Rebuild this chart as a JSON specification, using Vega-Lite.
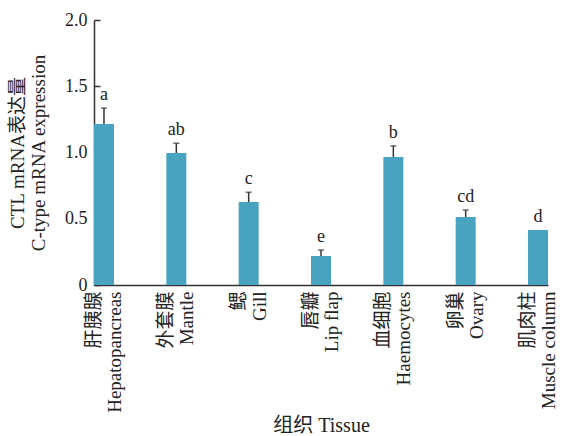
{
  "$schema": "https://vega.github.io/schema/vega-lite/v6.json",
  "width": 454,
  "height": 265,
  "autosize": {"type": "none"},
  "padding": {"left": 94, "top": 20, "right": 33, "bottom": 151},
  "background": "white",
  "config": {
    "view": {"stroke": null},
    "font": "Liberation Serif, Noto Sans CJK SC"
  },
  "data": {
    "values": [
      {"tissue": "肝胰腺\nHepatopancreas", "value": 1.215, "err": 1.335, "sig": "a"},
      {"tissue": "外套膜\nMantle", "value": 0.996, "err": 1.07, "sig": "ab"},
      {"tissue": "鳃\nGill", "value": 0.626, "err": 0.70, "sig": "c"},
      {"tissue": "唇瓣\nLip flap", "value": 0.219, "err": 0.264, "sig": "e"},
      {"tissue": "血细胞\nHaemocytes", "value": 0.966, "err": 1.05, "sig": "b"},
      {"tissue": "卵巢\nOvary", "value": 0.513, "err": 0.566, "sig": "cd"},
      {"tissue": "肌肉柱\nMuscle column", "value": 0.415, "err": 0.415, "sig": "d"}
    ]
  },
  "encoding": {
    "x": {
      "field": "tissue",
      "type": "nominal",
      "sort": null,
      "scale": {"paddingInner": 0.724, "paddingOuter": 0},
      "axis": {
        "title": "组织 Tissue",
        "titleFontSize": 20,
        "titleFontWeight": "normal",
        "titleColor": "#222",
        "titleY": 140,
        "titleBaseline": "middle",
        "labelAngle": -90,
        "labelExpr": "split(datum.label, '\\n')",
        "labelLineHeight": 21,
        "labelFontSize": 19,
        "labelColor": "#222",
        "labelPadding": 6,
        "labelOffset": -10,
        "ticks": false,
        "domainColor": "#333",
        "domainWidth": 1.5
      }
    }
  },
  "layer": [
    {
      "mark": {"type": "bar", "color": "#47a3bf"},
      "encoding": {
        "y": {
          "field": "value",
          "type": "quantitative",
          "scale": {"domain": [0, 2]},
          "axis": {
            "title": ["CTL mRNA表达量", "C-type mRNA expression"],
            "titleFontSize": 19,
            "titleFontWeight": "normal",
            "titleColor": "#222",
            "titleLineHeight": 21,
            "titleBaseline": "middle",
            "titleX": -77,
            "values": [0, 0.5, 1, 1.5, 2],
            "labelExpr": "datum.value == 0 ? '0' : format(datum.value, '.1f')",
            "labelFontSize": 18,
            "labelColor": "#222",
            "tickSize": -6,
            "labelPadding": 13,
            "tickColor": "#333",
            "tickWidth": 1.5,
            "domainColor": "#333",
            "domainWidth": 1.5,
            "grid": false
          }
        }
      }
    },
    {
      "transform": [{"filter": "datum.err > datum.value"}],
      "mark": {"type": "rule", "color": "#333", "strokeWidth": 1.5},
      "encoding": {
        "y": {"field": "value", "type": "quantitative"},
        "y2": {"field": "err"}
      }
    },
    {
      "transform": [{"filter": "datum.err > datum.value"}],
      "mark": {"type": "tick", "color": "#333", "thickness": 1.5, "size": 6},
      "encoding": {
        "y": {"field": "err", "type": "quantitative"}
      }
    },
    {
      "mark": {"type": "text", "baseline": "bottom", "dy": -4, "fontSize": 18, "color": "#222"},
      "encoding": {
        "y": {"field": "err", "type": "quantitative"},
        "text": {"field": "sig"}
      }
    }
  ]
}
